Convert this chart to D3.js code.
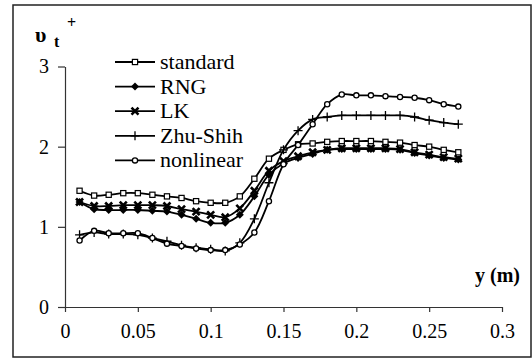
<!DOCTYPE html>
<html><head><meta charset="utf-8">
<script src="https://cdn.jsdelivr.net/npm/d3@7"></script>
<style>html,body{margin:0;padding:0;background:#fff;}svg{display:block;}
svg text{font-family:"Liberation Serif","Times New Roman","DejaVu Serif",serif !important;}</style>
</head><body><svg id="c" width="532" height="358"></svg>
<script>
const yPos = [0.01,0.02,0.03,0.04,0.05,0.06,0.07,0.08,0.09,0.10,0.11,0.12,0.13,0.14,0.15,0.16,0.17,0.18,0.19,0.20,0.21,0.22,0.23,0.24,0.25,0.26,0.27];
const standard  = [1.45,1.39,1.40,1.42,1.42,1.40,1.38,1.36,1.32,1.30,1.30,1.38,1.60,1.85,1.96,2.03,2.04,2.06,2.07,2.07,2.07,2.06,2.05,2.02,2.00,1.96,1.93];
const rng       = [1.31,1.22,1.21,1.21,1.21,1.20,1.19,1.15,1.10,1.05,1.05,1.15,1.38,1.65,1.79,1.86,1.91,1.96,1.97,1.97,1.97,1.97,1.96,1.92,1.89,1.86,1.84];
const lk        = [1.31,1.26,1.26,1.27,1.27,1.27,1.26,1.22,1.19,1.15,1.12,1.23,1.45,1.70,1.82,1.88,1.93,1.96,1.98,1.98,1.98,1.98,1.97,1.93,1.90,1.87,1.85];
const zhuShih   = [0.90,0.93,0.91,0.91,0.90,0.86,0.82,0.77,0.74,0.72,0.70,0.80,1.10,1.55,1.96,2.20,2.34,2.37,2.39,2.39,2.39,2.39,2.39,2.37,2.33,2.30,2.28];
const nonlinear = [0.83,0.95,0.92,0.92,0.92,0.86,0.79,0.76,0.73,0.71,0.71,0.78,0.93,1.32,1.78,2.02,2.28,2.53,2.65,2.64,2.64,2.63,2.62,2.61,2.58,2.53,2.50];
const seriesNames = ["standard","RNG","LK","Zhu-Shih","nonlinear"];
const markerTypes = ["square","diamond","cross","plus","circle"];
const xTicks = [0,0.05,0.1,0.15,0.2,0.25,0.3];
const yTicks = [0,1,2,3];

const svg = d3.select("#c");
const font = "Liberation Serif";
svg.append("rect").attr("x",13).attr("y",5).attr("width",518).attr("height",352)
  .attr("fill","none").attr("stroke","#222").attr("stroke-width",1.5);

const x = d3.scaleLinear().domain([0,0.3]).range([65,502]);
const y = d3.scaleLinear().domain([0,3]).range([307,66.5]);

const gx = svg.append("g").attr("transform","translate(0,307)")
  .call(d3.axisBottom(x).tickValues(xTicks).tickSize(5).tickSizeOuter(0).tickPadding(12).tickFormat(d=>d3.format("")(d)));
const gy = svg.append("g").attr("transform","translate(65,0)")
  .call(d3.axisLeft(y).tickValues(yTicks).tickSize(7).tickSizeOuter(0).tickPadding(9).tickFormat(d3.format("d")));
[gx,gy].forEach(g=>{
  g.attr("font-family",font);
  g.selectAll("path,line").attr("stroke","#333").attr("stroke-width",1.2);
  g.selectAll("text").attr("font-size",20).attr("fill","#000");
});

const data = [standard,rng,lk,zhuShih,nonlinear];
const line = d3.line().x((d,i)=>x(yPos[i])).y(d=>y(d)).curve(d3.curveCatmullRom.alpha(0.5));

function marker(g,type,cx,cy){
  if(type==="square") g.append("rect").attr("x",cx-2.6).attr("y",cy-2.6).attr("width",5.2).attr("height",5.2).attr("fill","#fff").attr("stroke","#000").attr("stroke-width",1.2);
  else if(type==="diamond") g.append("path").attr("d",`M${cx},${cy-4}L${cx+4},${cy}L${cx},${cy+4}L${cx-4},${cy}Z`).attr("fill","#000");
  else if(type==="cross") g.append("path").attr("d",`M${cx-3.5},${cy-3.5}L${cx+3.5},${cy+3.5}M${cx+3.5},${cy-3.5}L${cx-3.5},${cy+3.5}`).attr("stroke","#000").attr("stroke-width",2.6);
  else if(type==="plus") g.append("path").attr("d",`M${cx-4.5},${cy}L${cx+4.5},${cy}M${cx},${cy-4.5}L${cx},${cy+4.5}`).attr("stroke","#000").attr("stroke-width",1.3);
  else if(type==="circle") g.append("circle").attr("cx",cx).attr("cy",cy).attr("r",2.6).attr("fill","#fff").attr("stroke","#000").attr("stroke-width",1.3);
}

data.forEach((s,k)=>{
  const g = svg.append("g");
  g.append("path").datum(s).attr("d",line).attr("fill","none").attr("stroke","#000").attr("stroke-width",1.8);
  s.forEach((v,i)=>marker(g,markerTypes[k],x(yPos[i]),y(v)));
});

// legend
const lg = svg.append("g");
seriesNames.forEach((n,k)=>{
  const cy = 62 + k*24.6;
  lg.append("line").attr("x1",115).attr("x2",155).attr("y1",cy).attr("y2",cy).attr("stroke","#000").attr("stroke-width",1.8);
  marker(lg,markerTypes[k],135,cy);
  lg.append("text").attr("x",160).attr("y",cy+7).attr("font-family",font).attr("font-size",22).text(n);
});

// axis titles
const t = svg.append("text").attr("font-family",font).attr("font-weight","bold").attr("x",35).attr("y",42);
t.append("tspan").attr("font-size",22).text("υ");
t.append("tspan").attr("font-size",16).attr("x",54).attr("y",47).text("t");
t.append("tspan").attr("font-size",16).attr("x",67).attr("y",28).text("+");
svg.append("text").attr("font-family",font).attr("font-weight","bold").attr("font-size",20)
  .attr("x",520).attr("y",282).attr("text-anchor","end").text("y (m)");
</script></body></html>
